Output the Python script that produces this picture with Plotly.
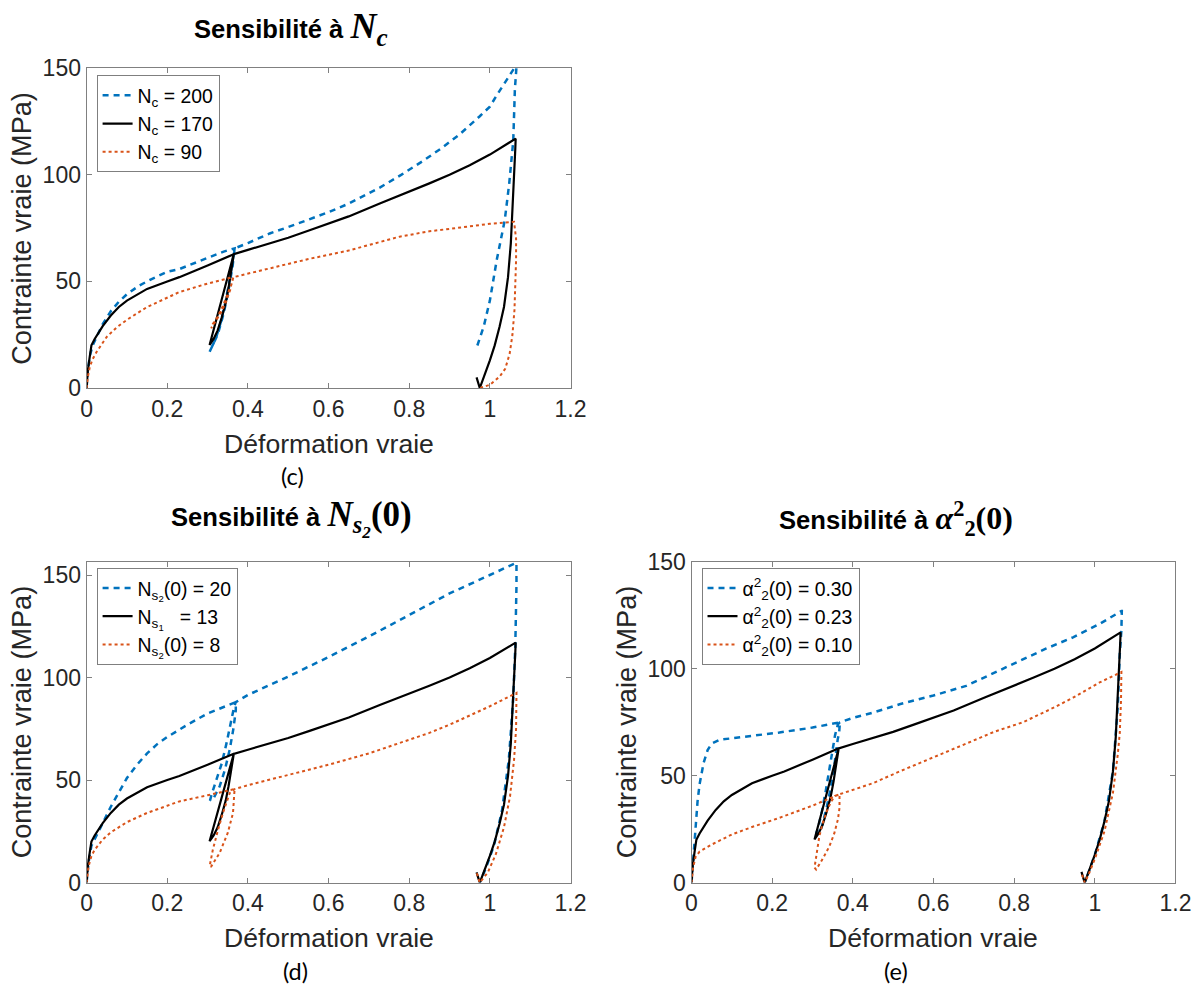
import plotly.graph_objects as go

# ---------------- data (true strain, true stress MPa) ----------------
# Reference curve (black): N_c = 170, N_s1 = 13, alpha2^2(0) = 0.23  (same in all panels)
ref_strain = [0, 0.003, 0.008, 0.012, 0.02, 0.04, 0.06, 0.08, 0.1, 0.15, 0.2, 0.23, 0.3, 0.365,
              0.355, 0.345, 0.335, 0.325, 0.315, 0.305,
              0.315, 0.325, 0.335, 0.345, 0.352, 0.358, 0.363, 0.365,
              0.4, 0.45, 0.5, 0.553, 0.6, 0.65, 0.727, 0.8, 0.85, 0.9, 0.95, 1.0, 1.03, 1.064,
              1.063, 1.061, 1.057, 1.052, 1.045, 1.035, 1.024, 1.012, 1.0, 0.987, 0.975, 0.967]
ref_stress = [0, 8, 15, 20, 23, 29, 34, 38, 41, 46.5, 50, 52, 57.5, 62.8,
              55.7, 48.7, 41.5, 34.4, 27.3, 20.2,
              23, 27, 33, 40, 47, 54, 60, 62.8,
              64.8, 67.5, 70.5, 74, 77, 80.5, 86.6, 92, 96, 100, 104.5, 109.5, 113, 117,
              112, 104, 85, 68, 52, 38, 28.7, 20, 13, 6, 0, 5]

# (c) N_c = 200 (blue dashed)
c_nc200_strain = [0, 0.003, 0.008, 0.015, 0.025, 0.04, 0.06, 0.08, 0.1, 0.13, 0.16, 0.2, 0.23, 0.3, 0.34, 0.367,
                  0.363, 0.355, 0.345, 0.333, 0.32, 0.305,
                  0.312, 0.325, 0.34, 0.352, 0.362, 0.367,
                  0.4, 0.454, 0.5, 0.55, 0.6, 0.65, 0.727, 0.78, 0.834, 0.88, 0.925, 0.975, 1.0, 1.016, 1.04, 1.062, 1.068,
                  1.066, 1.062, 1.058, 1.048, 1.037, 1.017, 1.0, 0.985, 0.968]
c_nc200_stress = [0, 8, 15, 20, 24, 30, 36, 40.5, 44, 48, 51, 54.5, 55.8, 61, 64, 65.5,
                  60, 51, 41, 31, 23, 17,
                  19, 25, 35, 46, 57, 65.5,
                  68, 72.5, 75.5, 79, 82.5, 86.5, 94, 100, 106.5, 112.5, 119, 127.5, 132, 137, 144, 150.5, 156,
                  150, 140, 116, 96, 78.8, 60, 41, 29, 19.4]

# (c) N_c = 90 (orange dotted)
c_nc90_strain = [0, 0.003, 0.008, 0.015, 0.025, 0.05, 0.075, 0.1, 0.15, 0.2, 0.23, 0.3, 0.363,
                 0.356, 0.345, 0.332, 0.32, 0.309,
                 0.313, 0.325, 0.338, 0.35, 0.36, 0.364,
                 0.45, 0.55, 0.65, 0.727, 0.776, 0.85, 0.95, 1.0, 1.06,
                 1.065, 1.065, 1.063, 1.061, 1.056, 1.049, 1.038, 1.024, 1.0, 0.975]
c_nc90_stress = [0, 5, 10, 13.5, 17, 24, 28.5, 32, 38, 42.5, 45, 49, 52,
                 46, 40, 35, 31, 28,
                 30, 33.5, 38.5, 44, 49, 52,
                 56, 60.5, 64.5, 68.6, 71, 73.5, 76, 77, 78,
                 70, 60, 45, 36.6, 25, 16, 9, 5.3, 1.5, 0]

# (d) N_s2(0) = 20 (blue dashed)
d_ns20_strain = [0, 0.005, 0.012, 0.02, 0.04, 0.06, 0.08, 0.1, 0.125, 0.15, 0.175, 0.2, 0.25, 0.3, 0.37,
                 0.37, 0.364, 0.355, 0.343, 0.33, 0.316, 0.306,
                 0.31, 0.322, 0.335, 0.347, 0.357, 0.365, 0.37,
                 0.4, 0.5, 0.6, 0.7, 0.8, 0.9, 1.0, 1.066,
                 1.066, 1.065, 1.063, 1.058, 1.047, 1.03, 1.01, 0.99, 0.975]
d_ns20_stress = [0, 10, 18, 21, 29, 37, 44, 51, 57.5, 63, 67.5, 71, 77, 82.5, 88,
                 84, 75, 65, 55, 47, 41.5, 40,
                 43, 50, 58, 68, 78, 85, 88,
                 91.5, 100.5, 110, 120, 130.5, 141, 150, 156,
                 145, 130, 115, 90, 60, 35, 18, 7, 0]

# (d) N_s2(0) = 8 (orange dotted)
d_ns8_strain = [0, 0.005, 0.012, 0.02, 0.04, 0.06, 0.1, 0.15, 0.2, 0.23, 0.3, 0.367,
                0.363, 0.35, 0.33, 0.309,
                0.305, 0.313, 0.326, 0.338, 0.355, 0.367,
                0.4, 0.5, 0.6, 0.7, 0.776, 0.85, 0.9, 1.0, 1.066,
                1.065, 1.06, 1.05, 1.035, 1.015, 0.995, 0.975, 0.967]
d_ns8_stress = [0, 8, 13, 16, 21, 24.5, 29.5, 34, 37.5, 39.6, 42.6, 45.6,
                33.9, 24.2, 14.5, 7.9,
                7.9, 16, 25.8, 33.9, 43.7, 45.6,
                47.5, 52.5, 57.5, 63, 68, 73, 77, 86, 92.5,
                75, 60, 42, 27, 14, 5, 0, 5]

# (e) alpha2^2(0) = 0.30 (blue dashed)
e_a030_strain = [0, 0.005, 0.01, 0.015, 0.02, 0.03, 0.04, 0.05, 0.07, 0.1, 0.15, 0.218, 0.3, 0.368,
                 0.366, 0.3625, 0.355, 0.346, 0.335, 0.3215, 0.312,
                 0.31, 0.313, 0.323, 0.333, 0.342, 0.35, 0.356, 0.363, 0.368,
                 0.4, 0.45, 0.516, 0.6, 0.681, 0.75, 0.822, 0.88, 0.946, 1.012, 1.066,
                 1.067, 1.066, 1.062, 1.057, 1.045, 1.024, 1.0, 0.985, 0.975]
e_a030_stress = [0, 14, 27, 38, 46, 56, 62, 65, 66.8, 67.5, 68.5, 70.2, 72.5, 75,
                 70, 67, 56, 45, 35, 25, 23,
                 23.5, 24.8, 33, 43, 53, 62, 69, 74, 75,
                 77, 79.5, 83.4, 87.5, 92, 98, 104.5, 109.5, 114.7, 121, 127,
                 127, 118, 107, 82, 52, 28.7, 13, 5, 0]

# (e) alpha2^2(0) = 0.10 (orange dotted)
e_a010_strain = [0, 0.004, 0.01, 0.02, 0.05, 0.1, 0.15, 0.218, 0.3, 0.367,
                 0.367, 0.363, 0.354, 0.342, 0.325, 0.309,
                 0.305, 0.31, 0.317, 0.325, 0.334, 0.345, 0.355, 0.367,
                 0.45, 0.516, 0.6, 0.681, 0.75, 0.822, 0.9, 0.946, 1.012, 1.066,
                 1.065, 1.062, 1.057, 1.045, 1.024, 1.0, 0.985, 0.975, 0.967]
e_a010_stress = [0, 7, 12, 14.5, 17.8, 22.5, 26, 30.3, 36, 41.3,
                 35, 29.5, 23, 17, 11, 6.1,
                 7, 14, 21.7, 27.5, 32.7, 37.5, 40.5, 41.3,
                 46.5, 52, 58.8, 65, 70.5, 75, 82, 86.5, 93.6, 98.5,
                 85, 70, 60, 42, 24, 11, 4, 0, 4.5]

# labels
x_ticks = [0, 0.2, 0.4, 0.6, 0.8, 1, 1.2]
x_tick_text = ["0", "0.2", "0.4", "0.6", "0.8", "1", "1.2"]
y_ticks = [0, 50, 100, 150]
c_names = ["N<sub>c</sub> = 200", "N<sub>c</sub> = 170", "N<sub>c</sub> = 90"]
d_names = ["N<sub>s<sub>2</sub></sub>(0) = 20", "N<sub>s<sub>1</sub></sub>   = 13", "N<sub>s<sub>2</sub></sub>(0) = 8"]
e_names = ["α<sup>2</sup><sub>2</sub>(0) = 0.30", "α<sup>2</sup><sub>2</sub>(0) = 0.23", "α<sup>2</sup><sub>2</sub>(0) = 0.10"]

BLUE = "#0072BD"
ORANGE = "#D95319"
BLACK = "#000000"
W, H = 1200, 990
# observed page->picture mapping of the viewer (picture = A*page + B); compensate for it
AX, BX = 0.9818, 6.4
AY, BY = 0.9745, 12.7
FS = 1.0 / 0.978  # font compensation

fig = go.Figure()

panels = [
    ("x", "y", "legend", c_names, (c_nc200_strain, c_nc200_stress), (c_nc90_strain, c_nc90_stress)),
    ("x2", "y2", "legend2", d_names, (d_ns20_strain, d_ns20_stress), (d_ns8_strain, d_ns8_stress)),
    ("x3", "y3", "legend3", e_names, (e_a030_strain, e_a030_stress), (e_a010_strain, e_a010_stress)),
]
for xa, ya, lg, names, hi, lo in panels:
    fig.add_trace(go.Scatter(x=hi[0], y=hi[1], mode="lines", name=names[0], xaxis=xa, yaxis=ya,
                             legend=lg, legendgroup=lg + "a",
                             line=dict(color=BLUE, width=2.5, dash="6px,5px")))
    fig.add_trace(go.Scatter(x=ref_strain, y=ref_stress, mode="lines", name=names[1], xaxis=xa, yaxis=ya,
                             legend=lg, legendgroup=lg + "b",
                             line=dict(color=BLACK, width=2.2)))
    fig.add_trace(go.Scatter(x=lo[0], y=lo[1], mode="lines", name=names[2], xaxis=xa, yaxis=ya,
                             legend=lg, legendgroup=lg + "c",
                             line=dict(color=ORANGE, width=2, dash="dot")))

def px_x(r):
    return ((r - BX) / AX) / W

def px_y(r):
    return 1 - ((r - BY) / AY) / H

axis_common = dict(
    showline=True, mirror="ticks", linecolor="#808080", linewidth=1,
    ticks="inside", ticklen=5, tickcolor="#808080", tickwidth=1,
    showgrid=False, zeroline=False,
    tickfont=dict(family="Liberation Sans, Arial", size=round(22.5 * FS, 1), color="#262626"),
)

frames = {
    "": dict(x=(87, 571), y=(68, 388), yr=[0, 150]),
    "2": dict(x=(87, 571), y=(562, 883), yr=[0, 156.4]),
    "3": dict(x=(692, 1176), y=(562, 883), yr=[0, 150]),
}
layout = dict()
for k, f in frames.items():
    layout["xaxis" + k] = dict(axis_common, domain=[px_x(f["x"][0]), px_x(f["x"][1])],
                               anchor="y" + k, range=[0, 1.2], tickvals=x_ticks, ticktext=x_tick_text)
    layout["yaxis" + k] = dict(axis_common, domain=[px_y(f["y"][1]), px_y(f["y"][0])],
                               anchor="x" + k, range=f["yr"], tickvals=y_ticks)
fig.update_layout(**layout)

legend_common = dict(bgcolor="white", bordercolor="#7f7f7f", borderwidth=1,
                     font=dict(family="Liberation Sans, Arial", size=round(19 * FS, 1), color="#000000"),
                     xanchor="left", yanchor="top", tracegroupgap=15, itemwidth=30,
                     traceorder="normal")
fig.update_layout(
    legend=dict(legend_common, x=px_x(97), y=px_y(75)),
    legend2=dict(legend_common, x=px_x(97), y=px_y(568)),
    legend3=dict(legend_common, x=px_x(702), y=px_y(568)),
)

annots = []
titles = [
    (291, 28, 35, "<b>Sensibilité à </b><span style=\"font-family:'Liberation Serif';font-size:%dpx\"><b><i>N<sub>c</sub></i></b></span>"),
    (292, 519, 34, "<b>Sensibilité à </b><span style=\"font-family:'Liberation Serif';font-size:%dpx\"><b><i>N<sub>s<sub>2</sub></sub></i>(0)</b></span>"),
    (897, 519, 31, "<b>Sensibilité à </b><span style=\"font-family:'Liberation Serif';font-size:%dpx\"><b><i>α</i><sup>2</sup><sub>2</sub>(0)</b></span>"),
]
for x, y, ms, t in titles:
    annots.append(dict(x=px_x(x), y=px_y(y), xref="paper", yref="paper", text=t % round(ms * FS),
                       showarrow=False, xanchor="center", yanchor="middle",
                       font=dict(family="Liberation Sans, Arial", size=round(25 * FS, 1), color="#000000")))

xlabels = [(329, 444), (329, 938), (934, 938)]
for x, y in xlabels:
    annots.append(dict(x=px_x(x), y=px_y(y), xref="paper", yref="paper", text="Déformation vraie",
                       showarrow=False, xanchor="center", yanchor="middle",
                       font=dict(family="Liberation Sans, Arial", size=round(26 * FS, 1), color="#262626")))
ylabels = [(22, 228), (22, 722), (627, 722)]
for x, y in ylabels:
    annots.append(dict(x=px_x(x), y=px_y(y), xref="paper", yref="paper", text="Contrainte vraie (MPa)",
                       showarrow=False, xanchor="center", yanchor="middle", textangle=-90,
                       font=dict(family="Liberation Sans, Arial", size=round(26.5 * FS, 1), color="#262626")))
subcaps = [(293, 476, "(c)"), (296, 971, "(d)"), (897, 971, "(e)")]
for x, y, t in subcaps:
    annots.append(dict(x=px_x(x), y=px_y(y), xref="paper", yref="paper", text=t, showarrow=False,
                       xanchor="center", yanchor="middle",
                       font=dict(family="Lato, Open Sans", size=round(23 * FS, 1), color="#000000")))

fig.update_layout(
    annotations=annots,
    width=W, height=H,
    margin=dict(l=0, r=0, t=0, b=0),
    paper_bgcolor="white", plot_bgcolor="white",
    showlegend=True,
)

fig.write_html(
    "out.html",
    config=dict(displayModeBar=False),
    post_script="document.body.style.margin='0';document.body.style.overflow='hidden';",
)
